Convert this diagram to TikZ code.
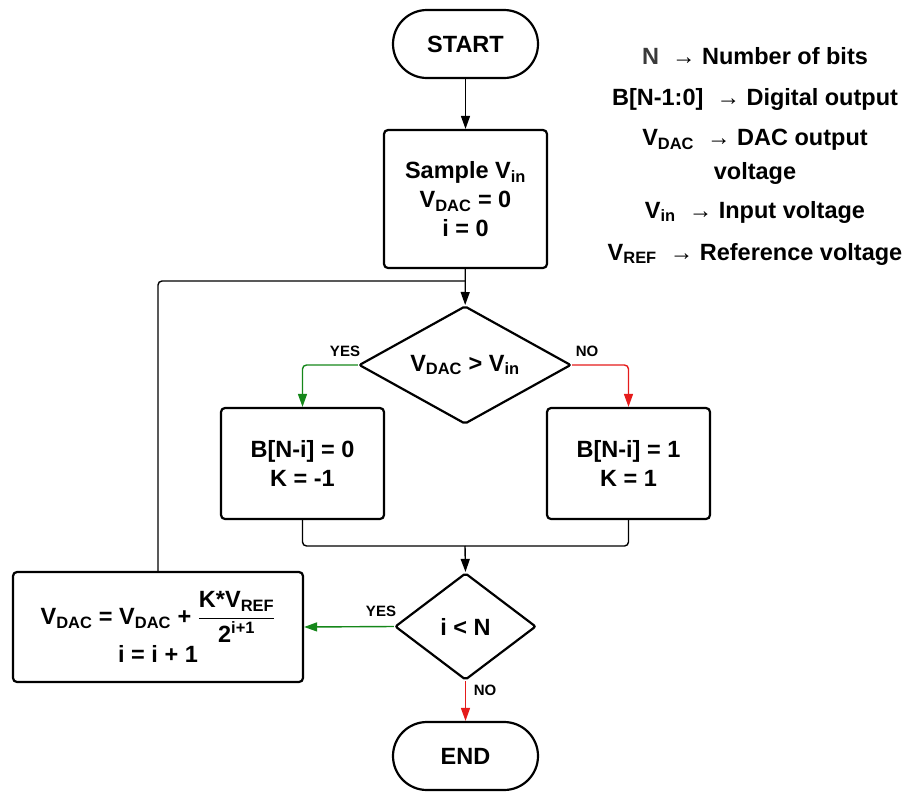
\documentclass[tikz,border=0pt]{standalone}
\usepackage{amsmath}
\usepackage{fontspec}
\setmainfont{Liberation Sans}
\usetikzlibrary{arrows.meta, positioning, shapes.geometric}
\definecolor{yesgreen}{HTML}{15871A}
\definecolor{nored}{HTML}{E51B1B}
\definecolor{keygray}{HTML}{3A3A3A}

\begin{document}
\begin{tikzpicture}[
    x=1pt, y=-1pt,
    font=\fontsize{23.5}{29}\selectfont\bfseries,
    terminal/.style={draw, line width=2.2pt, rounded corners=34pt, minimum width=145pt, minimum height=68pt, inner sep=0pt},
    process/.style={draw, line width=2.2pt, rounded corners=4pt, minimum width=163pt, align=center, inner sep=0pt},
    decision/.style={draw, line width=2.2pt, diamond, rounded corners=2pt, inner sep=0pt},
    flow/.style={-{Triangle[length=13pt, width=9pt]}, line width=1.4pt, rounded corners=4pt, color=#1},
    flow/.default=black,
    link/.style={line width=1.4pt, rounded corners=4pt},
    answer/.style={font=\fontsize{15}{16}\selectfont\bfseries},
    key/.style={align=center, font=\fontsize{23.5}{34}\selectfont\bfseries},
]
    \useasboundingbox (0,0) rectangle (911,793);

    % Terminals
    \node[terminal] (start) at (465.5, 44) {START};
    \node[terminal] (stop) at (465.5, 756) {END};

    % Initialisation
    \node[process, minimum height=138pt] (sample) at (465.5, 199) {Sample V\textsubscript{in}\\V\textsubscript{DAC} = 0\\i = 0};

    % Comparison
    \node[decision, minimum width=212pt, minimum height=118pt, aspect=1.8] (cmp) at (465, 365) {V\textsubscript{DAC} > V\textsubscript{in}};

    % Bit decisions
    \node[process, minimum height=111pt] (bzero) at (302.5, 463.5) {B[N-i] = 0\\K = -1};
    \node[process, minimum height=111pt] (bone) at (628.5, 463.5) {B[N-i] = 1\\K = 1};

    % Loop test
    \node[decision, minimum width=141pt, minimum height=107pt, aspect=1.32] (check) at (465.5, 626.5) {i < N};

    % Update
    \node[process, minimum width=290pt, minimum height=110pt] (update) at (158, 627) {V\textsubscript{DAC} = V\textsubscript{DAC} + $\dfrac{\mbox{K*V\textsubscript{REF}}}{\mbox{2\textsuperscript{i+1}}}$\\[2pt]i = i + 1};

    % Joints
    \coordinate (loopjoin) at (465, 281);
    \coordinate (merge) at (465, 546);

    % Key
    \node[key] (keyN) at (755, 56) {{\color{keygray}N}\ \ {\mdseries →} Number of bits};
    \node[key] (keyB) at (755, 99) {B[N-1:0] \ {\mdseries →} Digital output};
    \node[key] (keyDAC) at (755, 157) {V\textsubscript{DAC} \ {\mdseries →} DAC output\\voltage};
    \node[key] (keyIn) at (755, 212) {V\textsubscript{in} \ {\mdseries →} Input voltage};
    \node[key] (keyRef) at (755, 254) {V\textsubscript{REF} \ {\mdseries →} Reference voltage};

    % Flows
    \draw[flow] (start) -- (sample);
    \draw[flow] (sample) -- (cmp);
    \draw[flow=yesgreen] (cmp.west) -| (bzero.north);
    \draw[flow=nored] (cmp.east) -| (bone.north);
    \draw[link] (bzero.south) |- (merge);
    \draw[link] (bone.south) |- (merge);
    \draw[flow] (merge) -- (check.north);
    \draw[flow=yesgreen] (check.west) -- (update.east);
    \draw[flow=nored] (check.south) -- (stop.north);

    % Loop back
    \draw[link] (update.north) |- (loopjoin);

    % Answers
    \node[answer] (yesbit) at (345, 351) {YES};
    \node[answer] (nobit) at (587, 351) {NO};
    \node[answer] (yesloop) at (381, 611) {YES};
    \node[answer] (noloop) at (485, 690) {NO};

\end{tikzpicture}
\end{document}
